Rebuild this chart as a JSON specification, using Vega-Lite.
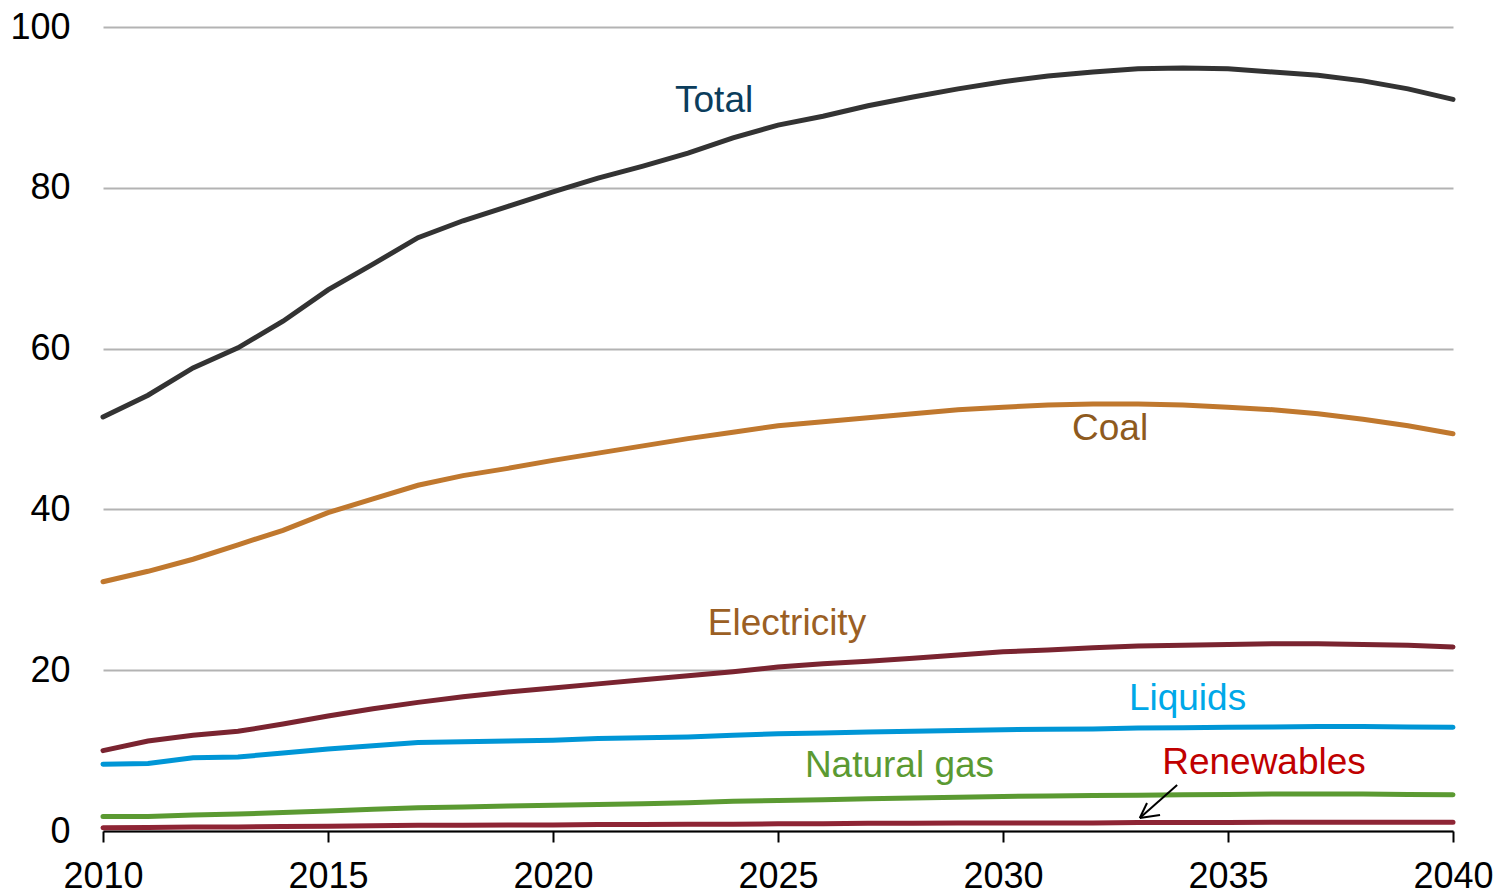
{
  "$schema": "https://vega.github.io/schema/vega-lite/v6.json",
  "autosize": "none",
  "width": 1350,
  "height": 804,
  "padding": {"left": 103, "top": 27, "right": 43, "bottom": 62},
  "background": "white",
  "config": {
    "view": {"stroke": null},
    "font": "Liberation Sans",
    "axis": {"labelFont": "Liberation Sans", "labelFontSize": 36, "labelColor": "#000000"}
  },
  "datasets": {
    "series": [
      {"year": 2010, "Total": 51.5, "Coal": 31.0, "Electricity": 10.0, "Liquids": 8.3, "Natural gas": 1.8, "Renewables": 0.4},
      {"year": 2011, "Total": 54.2, "Coal": 32.3, "Electricity": 11.2, "Liquids": 8.4, "Natural gas": 1.8, "Renewables": 0.45},
      {"year": 2012, "Total": 57.6, "Coal": 33.8, "Electricity": 11.9, "Liquids": 9.1, "Natural gas": 2.0, "Renewables": 0.5},
      {"year": 2013, "Total": 60.1, "Coal": 35.6, "Electricity": 12.4, "Liquids": 9.2, "Natural gas": 2.1, "Renewables": 0.5},
      {"year": 2014, "Total": 63.4, "Coal": 37.4, "Electricity": 13.3, "Liquids": 9.7, "Natural gas": 2.3, "Renewables": 0.55},
      {"year": 2015, "Total": 67.3, "Coal": 39.6, "Electricity": 14.3, "Liquids": 10.2, "Natural gas": 2.5, "Renewables": 0.6},
      {"year": 2016, "Total": 70.5, "Coal": 41.3, "Electricity": 15.2, "Liquids": 10.6, "Natural gas": 2.7, "Renewables": 0.65},
      {"year": 2017, "Total": 73.8, "Coal": 43.0, "Electricity": 16.0, "Liquids": 11.0, "Natural gas": 2.9, "Renewables": 0.7},
      {"year": 2018, "Total": 75.9, "Coal": 44.2, "Electricity": 16.7, "Liquids": 11.1, "Natural gas": 3.0, "Renewables": 0.7},
      {"year": 2019, "Total": 77.7, "Coal": 45.1, "Electricity": 17.3, "Liquids": 11.2, "Natural gas": 3.1, "Renewables": 0.75},
      {"year": 2020, "Total": 79.5, "Coal": 46.1, "Electricity": 17.8, "Liquids": 11.3, "Natural gas": 3.2, "Renewables": 0.75},
      {"year": 2021, "Total": 81.2, "Coal": 47.0, "Electricity": 18.3, "Liquids": 11.5, "Natural gas": 3.3, "Renewables": 0.8},
      {"year": 2022, "Total": 82.7, "Coal": 47.9, "Electricity": 18.8, "Liquids": 11.6, "Natural gas": 3.4, "Renewables": 0.8},
      {"year": 2023, "Total": 84.3, "Coal": 48.8, "Electricity": 19.3, "Liquids": 11.7, "Natural gas": 3.5, "Renewables": 0.85},
      {"year": 2024, "Total": 86.2, "Coal": 49.6, "Electricity": 19.8, "Liquids": 11.9, "Natural gas": 3.7, "Renewables": 0.85},
      {"year": 2025, "Total": 87.8, "Coal": 50.4, "Electricity": 20.4, "Liquids": 12.1, "Natural gas": 3.8, "Renewables": 0.9},
      {"year": 2026, "Total": 88.9, "Coal": 50.9, "Electricity": 20.8, "Liquids": 12.2, "Natural gas": 3.9, "Renewables": 0.9},
      {"year": 2027, "Total": 90.2, "Coal": 51.4, "Electricity": 21.1, "Liquids": 12.3, "Natural gas": 4.0, "Renewables": 0.95},
      {"year": 2028, "Total": 91.3, "Coal": 51.9, "Electricity": 21.5, "Liquids": 12.4, "Natural gas": 4.1, "Renewables": 0.95},
      {"year": 2029, "Total": 92.3, "Coal": 52.4, "Electricity": 21.9, "Liquids": 12.5, "Natural gas": 4.2, "Renewables": 1.0},
      {"year": 2030, "Total": 93.2, "Coal": 52.7, "Electricity": 22.3, "Liquids": 12.6, "Natural gas": 4.3, "Renewables": 1.0},
      {"year": 2031, "Total": 93.9, "Coal": 53.0, "Electricity": 22.5, "Liquids": 12.65, "Natural gas": 4.35, "Renewables": 1.0},
      {"year": 2032, "Total": 94.4, "Coal": 53.1, "Electricity": 22.8, "Liquids": 12.7, "Natural gas": 4.4, "Renewables": 1.0},
      {"year": 2033, "Total": 94.8, "Coal": 53.1, "Electricity": 23.0, "Liquids": 12.8, "Natural gas": 4.45, "Renewables": 1.05},
      {"year": 2034, "Total": 94.9, "Coal": 53.0, "Electricity": 23.1, "Liquids": 12.85, "Natural gas": 4.5, "Renewables": 1.05},
      {"year": 2035, "Total": 94.8, "Coal": 52.7, "Electricity": 23.2, "Liquids": 12.9, "Natural gas": 4.55, "Renewables": 1.05},
      {"year": 2036, "Total": 94.4, "Coal": 52.4, "Electricity": 23.3, "Liquids": 12.95, "Natural gas": 4.6, "Renewables": 1.1},
      {"year": 2037, "Total": 94.0, "Coal": 51.9, "Electricity": 23.3, "Liquids": 13.0, "Natural gas": 4.6, "Renewables": 1.1},
      {"year": 2038, "Total": 93.3, "Coal": 51.2, "Electricity": 23.2, "Liquids": 13.0, "Natural gas": 4.6, "Renewables": 1.1},
      {"year": 2039, "Total": 92.3, "Coal": 50.4, "Electricity": 23.1, "Liquids": 12.95, "Natural gas": 4.55, "Renewables": 1.1},
      {"year": 2040, "Total": 91.0, "Coal": 49.4, "Electricity": 22.9, "Liquids": 12.9, "Natural gas": 4.5, "Renewables": 1.1}
    ],
    "labels": [
      {"label": "Total", "year": 2023.58, "value": 90.8},
      {"label": "Coal", "year": 2032.38, "value": 50.0},
      {"label": "Electricity", "year": 2025.2, "value": 25.7},
      {"label": "Liquids", "year": 2034.1, "value": 16.4},
      {"label": "Natural gas", "year": 2027.7, "value": 8.1},
      {"label": "Renewables", "year": 2035.8, "value": 8.5}
    ],
    "arrow": [
      {"part": "shaft", "year": 2033.87, "value": 5.72, "year2": 2033.04, "value2": 1.62},
      {"part": "head1", "year": 2033.2, "value": 3.48, "year2": 2033.04, "value2": 1.62},
      {"part": "head2", "year": 2033.49, "value": 1.99, "year2": 2033.04, "value2": 1.62}
    ]
  },
  "layer": [
    {
      "data": {"name": "series"},
      "transform": [{"fold": ["Total", "Coal", "Electricity", "Liquids", "Natural gas", "Renewables"], "as": ["series", "value"]}],
      "mark": {"type": "line", "strokeWidth": 5, "strokeCap": "round", "interpolate": "linear"},
      "encoding": {
        "x": {
          "field": "year", "type": "quantitative",
          "scale": {"domain": [2010, 2040], "nice": false, "zero": false},
          "axis": {
            "title": null, "values": [2010, 2015, 2020, 2025, 2030, 2035, 2040], "format": "d",
            "grid": false, "domain": true, "domainColor": "#000000", "domainWidth": 2,
            "ticks": true, "tickColor": "#000000", "tickWidth": 2, "tickSize": 11,
            "labelPadding": 17, "labelFlush": false, "labelOverlap": false
          }
        },
        "y": {
          "field": "value", "type": "quantitative",
          "scale": {"domain": [0, 100], "nice": false},
          "axis": {
            "title": null, "values": [0, 20, 40, 60, 80, 100],
            "grid": true, "gridColor": "#b3b3b3", "gridWidth": 2,
            "domain": false, "ticks": false, "labelPadding": 33, "labelFlush": false
          }
        },
        "color": {
          "field": "series", "type": "nominal",
          "scale": {
            "domain": ["Total", "Coal", "Electricity", "Liquids", "Natural gas", "Renewables"],
            "range": ["#333333", "#c0782e", "#7a2430", "#0096d6", "#5b9a32", "#8e2535"]
          },
          "legend": null
        },
        "order": {"field": "year"}
      }
    },
    {
      "data": {"name": "labels"},
      "mark": {"type": "text", "fontSize": 37, "font": "Liberation Sans", "align": "center", "baseline": "middle"},
      "encoding": {
        "x": {"field": "year", "type": "quantitative"},
        "y": {"field": "value", "type": "quantitative"},
        "text": {"field": "label"},
        "color": {
          "field": "label", "type": "nominal",
          "scale": {
            "domain": ["Total", "Coal", "Electricity", "Liquids", "Natural gas", "Renewables"],
            "range": ["#0b3d5c", "#8e5a1e", "#9b5f24", "#00a8e8", "#5b9a32", "#c00000"]
          },
          "legend": null
        }
      }
    },
    {
      "data": {"name": "arrow"},
      "mark": {"type": "rule", "color": "#000000", "strokeWidth": 2},
      "encoding": {
        "x": {"field": "year", "type": "quantitative"},
        "y": {"field": "value", "type": "quantitative"},
        "x2": {"field": "year2"},
        "y2": {"field": "value2"}
      }
    }
  ],
  "resolve": {"scale": {"color": "independent"}}
}
